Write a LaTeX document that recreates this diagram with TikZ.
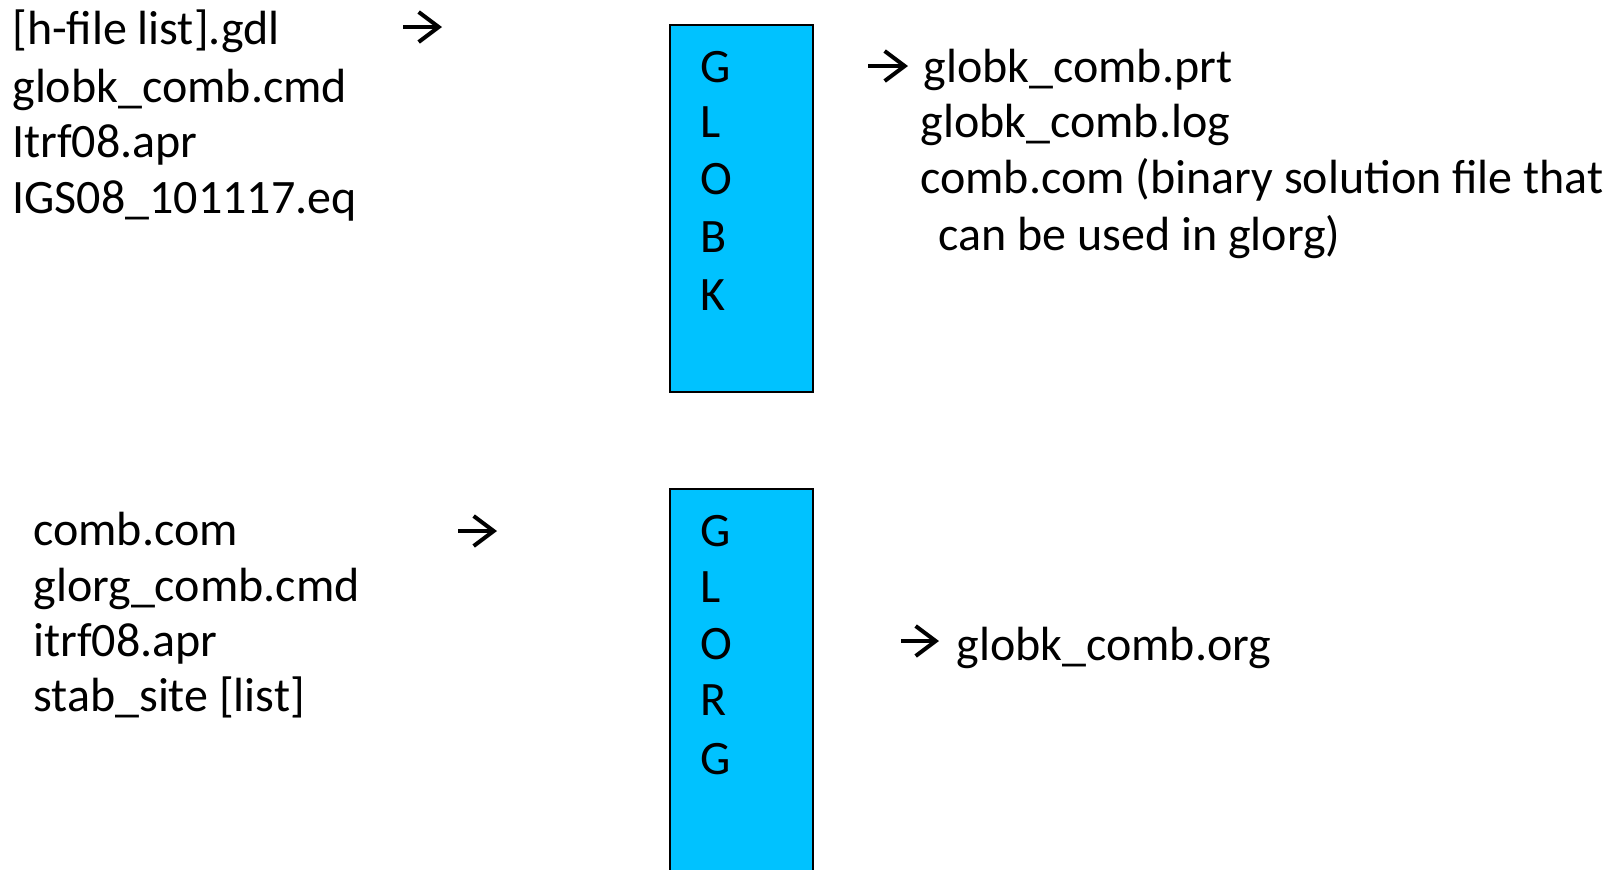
\documentclass[tikz,border=0pt]{standalone}
\usepackage{fontspec}
\setmainfont{Carlito}
\usetikzlibrary{arrows.meta}
\definecolor{boxcyan}{RGB}{0,194,255}
\begin{document}
\begin{tikzpicture}[x=0.5pt,y=-0.5pt,
  txt/.style={anchor=base west, inner sep=0pt, font=\fontsize{24}{28}\selectfont},
  prog/.style={draw=black, line width=1pt, fill=boxcyan, inner sep=0pt, anchor=north west, minimum width=71.5pt},
  arr/.style={line width=2pt, -{Straight Barb[length=10pt,width=15pt,sharp]}}]
\useasboundingbox (0,0) rectangle (1614,869);
\clip (0,0) rectangle (1614,869);
\fill[white] (0,0) rectangle (1614,869);

% boxes
\node[prog, minimum height=183.5pt] (globk) at (669,24) {};
\node[prog, minimum height=200pt] (glorg) at (669,488) {};

% GLOBK letters
\node[txt] (k1) at (700,82) {G};
\node[txt] (k2) at (700,137) {L};
\node[txt] (k3) at (700,194) {O};
\node[txt] (k4) at (700,252) {B};
\node[txt] (k5) at (700,310) {K};

% GLORG letters
\node[txt] (r1) at (700,546) {G};
\node[txt] (r2) at (700,602) {L};
\node[txt] (r3) at (700,659) {O};
\node[txt] (r4) at (700,715) {R};
\node[txt] (r5) at (700,774) {G};

% top-left inputs
\node[txt] (i1) at (12,44) {[h-file list].gdl};
\node[txt] (i2) at (12,102) {globk\_comb.cmd};
\node[txt] (i3) at (12,157) {Itrf08.apr};
\node[txt] (i4) at (12,213) {IGS08\_101117.eq};

% top-right outputs
\node[txt] (o1) at (923,82) {globk\_comb.prt};
\node[txt] (o2) at (920,137) {globk\_comb.log};
\node[txt] (o3) at (920,193) {comb.com (binary solution file that};
\node[txt] (o4) at (938,250) {can be used in glorg)};

% bottom-left inputs
\node[txt] (j1) at (33,545) {comb.com};
\node[txt] (j2) at (33,601) {glorg\_comb.cmd};
\node[txt] (j3) at (33,656) {itrf08.apr};
\node[txt] (j4) at (33,711) {stab\_site [list]};

% bottom-right output
\node[txt] (p1) at (956,660) {globk\_comb.org};

% arrows
\coordinate (a1s) at (403,27);  \coordinate (a1e) at (442,27);
\coordinate (a2s) at (868,66);  \coordinate (a2e) at (908,66);
\coordinate (a3s) at (458,531); \coordinate (a3e) at (497,531);
\coordinate (a4s) at (901,641); \coordinate (a4e) at (939,641);
\draw[arr] (a1s) -- (a1e);
\draw[arr] (a2s) -- (a2e);
\draw[arr] (a3s) -- (a3e);
\draw[arr] (a4s) -- (a4e);
\end{tikzpicture}
\end{document}
